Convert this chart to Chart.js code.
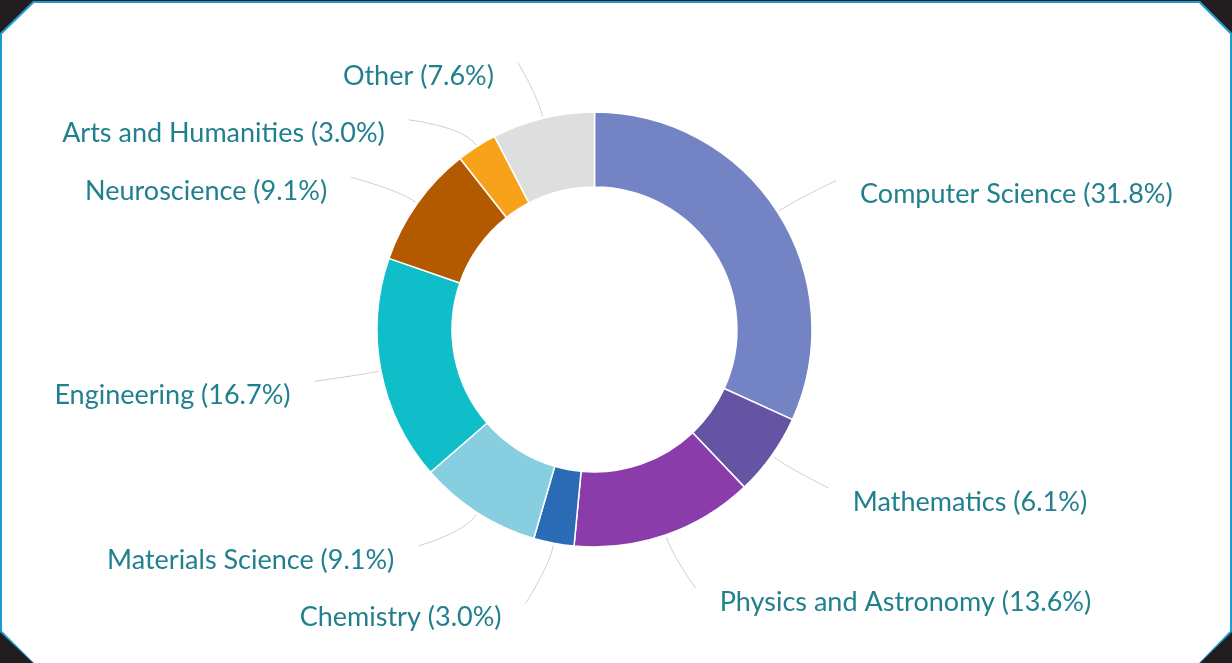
<!DOCTYPE html>
<html>
<head>
<meta charset="utf-8">
<script src="https://cdn.jsdelivr.net/npm/chart.js@4.4.1/dist/chart.umd.min.js"></script>
<style>
  html, body { margin: 0; padding: 0; background: #211d1e; overflow: hidden; }
  .frame, .panel { position: absolute; left: 0; top: 0; width: 1232px; height: 663px; }
  .frame {
    background: #1d9bd1;
    clip-path: polygon(33px 1px, 1200px 1px, 1232px 33px, 1232px 632px, 1200px 663px, 33px 663px, 0 632px, 0 33px);
  }
  .panel {
    background: #fff;
    clip-path: polygon(34px 3px, 1199px 3px, 1230px 34px, 1230px 631px, 1199px 663px, 34px 663px, 2px 631px, 2px 34px);
  }
  canvas { position: absolute; left: 0; top: 0; }
</style>
</head>
<body>
<div class="frame"></div>
<div class="panel"></div>
<canvas id="donut" width="1232" height="663"></canvas>
<script>
// categorias (sentido horario a partir do topo)
const categories = [
  "Computer Science", "Mathematics", "Physics and Astronomy", "Chemistry",
  "Materials Science", "Engineering", "Neuroscience", "Arts and Humanities", "Other"
];
const shares = [31.8, 6.1, 13.6, 3.0, 9.1, 16.7, 9.1, 3.0, 7.6];
const sliceColors = [
  "#7383c3", "#6553a4", "#8b3cab", "#2b6bb5",
  "#87cfe0", "#0fbec8", "#b35900", "#f8a21c", "#dedede"
];

const LABEL_FONT = '27px Lato';
const LABEL_COLOR = '#20808e';
const LINE_COLOR = '#cfcfcf';

// rotulos com linha guia, estilo "pie data labels"
const sliceLabels = {
  id: 'sliceLabels',
  afterDatasetsDraw(chart) {
    const ctx = chart.ctx;
    const arcs = chart.getDatasetMeta(0).data;
    const cx = arcs[0].x, cy = arcs[0].y, R = arcs[0].outerRadius;
    const gap = 57.5;
    const yc = cy + 13.5, ry = R + 57;
    const minY = yc - ry, maxY = yc + ry;

    const items = arcs.map((arc, i) => {
      const mid = (arc.startAngle + arc.endAngle) / 2;
      const c = Math.cos(mid), s = Math.sin(mid);
      return { i, c, s, right: c > 0, ideal: yc + ry * s };
    });

    // evitar sobreposicao em cada lado
    [true, false].forEach(side => {
      const list = items.filter(d => d.right === side).sort((a, b) => a.ideal - b.ideal);
      list.forEach((d, k) => {
        d.y = Math.max(d.ideal, minY);
        if (k > 0) d.y = Math.max(d.y, list[k - 1].y + gap);
      });
      for (let k = list.length - 1; k >= 0; k--) {
        list[k].y = Math.min(list[k].y, maxY);
        if (k < list.length - 1) list[k].y = Math.min(list[k].y, list[k + 1].y - gap);
      }
    });

    ctx.save();
    ctx.font = LABEL_FONT;
    ctx.textBaseline = 'middle';
    items.forEach(d => {
      const dir = d.right ? 1 : -1;
      const push = Math.abs(d.y - d.ideal);
      const x = cx + (R + 55.5) * d.c + dir * (36 + 1.2 * push);

      // linha guia
      const sx = cx + (R + 2) * d.c, sy = cy + (R + 2) * d.s;
      const qx = cx + (R + 22) * d.c, qy = cy + (R + 22) * d.s;
      const ex = x - dir * 24, ey = d.y - 14;
      ctx.beginPath();
      ctx.moveTo(sx, sy);
      ctx.quadraticCurveTo(qx, qy, ex, ey);
      ctx.strokeStyle = LINE_COLOR;
      ctx.lineWidth = 1;
      ctx.stroke();

      ctx.fillStyle = LABEL_COLOR;
      ctx.textAlign = d.right ? 'left' : 'right';
      ctx.fillText(categories[d.i] + ' (' + shares[d.i].toFixed(1) + '%)', x, d.y);
    });
    ctx.restore();
  }
};

new Chart(document.getElementById('donut'), {
  type: 'doughnut',
  data: {
    labels: categories,
    datasets: [{
      data: shares,
      backgroundColor: sliceColors,
      borderColor: '#ffffff',
      borderWidth: 1.5,
      hoverOffset: 0
    }]
  },
  options: {
    responsive: false,
    animation: false,
    devicePixelRatio: 1,
    radius: 217.5,
    cutout: '65.5%',
    layout: { padding: { left: 0, right: 43, top: 0, bottom: 4 } },
    plugins: {
      legend: { display: false },
      tooltip: { enabled: false }
    }
  },
  plugins: [sliceLabels]
});
</script>
</body>
</html>
